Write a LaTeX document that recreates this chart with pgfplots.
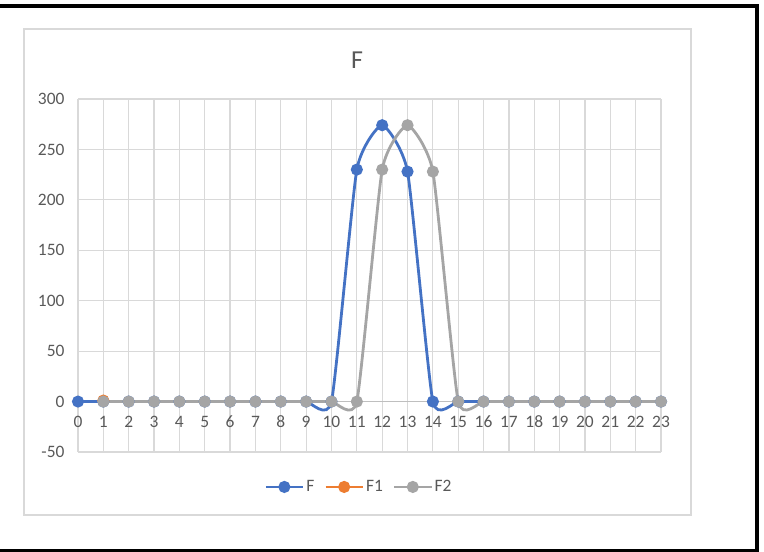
\documentclass[border=0pt]{standalone}
\usepackage{fontspec}
\setmainfont{Carlito}
\usepackage{pgfplots}
\pgfplotsset{compat=1.18}
\definecolor{cF}{HTML}{4472C4}
\definecolor{cFa}{HTML}{ED7D31}
\definecolor{cFb}{HTML}{A5A5A5}
\definecolor{gridc}{HTML}{D9D9D9}
\definecolor{axc}{HTML}{BFBFBF}
\definecolor{txt}{HTML}{595959}
\begin{document}
\begin{tikzpicture}[x=1bp,y=1bp]
\useasboundingbox (0,0) rectangle (764,552);
\draw[gridc, line width=1.2bp] (24,523) rectangle (691,37);
\draw[black, line width=3.5bp] (-5,546) -- (757,546) -- (757,1.5) -- (-5,1.5);
\node[txt, font=\fontsize{26}{31}\selectfont] at (357,492) {F};
\begin{axis}[
  at={(78bp,100bp)}, anchor=south west,
  scale only axis, width=583bp, height=353bp,
  xmin=0, xmax=23, ymin=-50, ymax=300,
  xtick={0,...,23}, ytick={-50,0,...,300},
  axis x line=middle, axis y line=left,
  hide obscured x ticks=false, hide obscured y ticks=false,
  x axis line style={draw=axc, line width=1.2bp, -},
  y axis line style={draw=none},
  major tick length=0,
  grid=major, major grid style={gridc, line width=1.2bp},
  tick label style={font=\fontsize{17.5}{21}\selectfont, text=txt},
  /pgf/number format/assume math mode=true,
  xticklabel style={yshift=-11bp},
  yticklabel style={xshift=-10bp},
  clip=false,
  legend style={draw=none, at={(0.482,-0.099)}, anchor=center,
    legend columns=3, font=\fontsize{17.5}{21}\selectfont, text=txt,
    /tikz/every even column/.append style={column sep=8bp}},
  legend image code/.code={\draw[mark repeat=2,mark phase=2,#1] plot coordinates {(0bp,0bp)(18.5bp,0bp)(37bp,0bp)};},
  every axis plot/.append style={line width=2.8bp, mark=*, mark size=4.6bp, smooth, tension=0.3},
]
\addplot[cF, mark options={fill=cF, draw=cF}] coordinates {
(0,0)(1,0)(2,0)(3,0)(4,0)(5,0)(6,0)(7,0)(8,0)(9,0)(10,0)(11,230)(12,274)(13,228)(14,0)(15,0)(16,0)(17,0)(18,0)(19,0)(20,0)(21,0)(22,0)(23,0)};
\addlegendentry{F}
\addplot[cFa, mark options={fill=cFa, draw=cFa}] coordinates {(1,1)};
\addlegendentry{F1}
\addplot[cFb, mark options={fill=cFb, draw=cFb}] coordinates {
(1,0)(2,0)(3,0)(4,0)(5,0)(6,0)(7,0)(8,0)(9,0)(10,0)(11,0)(12,230)(13,274)(14,228)(15,0)(16,0)(17,0)(18,0)(19,0)(20,0)(21,0)(22,0)(23,0)};
\addlegendentry{F2}
\end{axis}
\end{tikzpicture}
\end{document}
